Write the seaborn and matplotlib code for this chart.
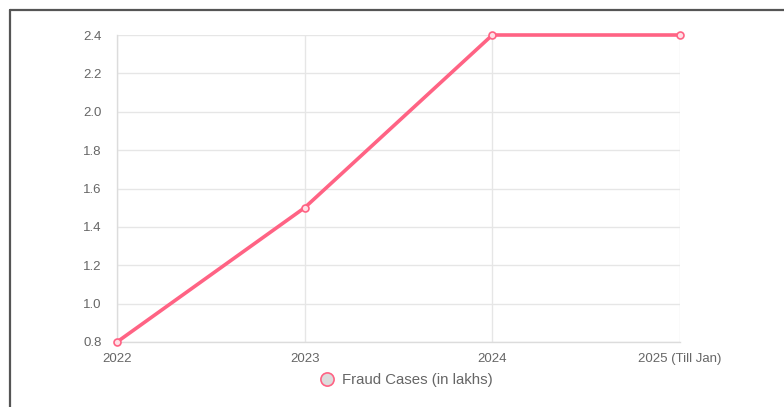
import matplotlib
matplotlib.use("Agg")
import matplotlib.pyplot as plt
from matplotlib.lines import Line2D
import seaborn as sns
import pandas as pd

years = ["2022", "2023", "2024", "2025 (Till Jan)"]
fraud_cases = [0.8, 1.5, 2.4, 2.4]
y_ticks = [0.8, 1.0, 1.2, 1.4, 1.6, 1.8, 2.0, 2.2, 2.4]
series_name = "Fraud Cases (in lakhs)"

df = pd.DataFrame({"year": years, "cases": fraud_cases})

sns.set_theme(style="white")
plt.rcParams['font.family'] = ['Liberation Sans', 'DejaVu Sans']

W, H = 784, 407
fig = plt.figure(figsize=(W / 100, H / 100), dpi=100)
ax = fig.add_axes([117 / W, 1 - 342 / H, (680 - 117) / W, (342 - 35) / H])

pink = "#ff6384"
sns.lineplot(data=df, x="year", y="cases", sort=False, ax=ax, color=pink,
             linewidth=2.6, marker="o", markersize=5,
             markerfacecolor="#ffe0e6", markeredgecolor=pink, markeredgewidth=1.2,
             clip_on=False, zorder=5)

ax.set_xlim(0, 3)
ax.set_ylim(0.8, 2.4)
ax.set_yticks(y_ticks)
ax.set_yticklabels([f"{v:.1f}" for v in y_ticks])
ax.set_xticks(range(len(years)))
ax.set_xticklabels(years)
ax.set_xlabel("")
ax.set_ylabel("")

grid_c = "#e6e6e6"
ax.grid(True, color=grid_c, linewidth=1)
for s in ["top", "right"]:
    ax.spines[s].set_visible(False)
for s in ["left", "bottom"]:
    ax.spines[s].set_color("#dcdcdc")
    ax.spines[s].set_linewidth(1)
ax.tick_params(axis="both", colors="#666666", labelsize=9.5, length=7,
               width=1, pad=4)
ax.tick_params(axis="both", color=grid_c)
ax.tick_params(axis="x", length=3, pad=5)

# legend
handle = Line2D([], [], linestyle="none", marker="o", markersize=9.5,
                markerfacecolor="#dcdcdc", markeredgecolor=pink, markeredgewidth=1.2)
fig.legend([handle], [series_name], loc="center", bbox_to_anchor=(406 / W, 1 - 380 / H),
           frameon=False, fontsize=10.8, labelcolor="#666666", handletextpad=0.5,
           handlelength=1.0)

# screenshot frame
frame_c = "#555555"
fig.add_artist(Line2D([10 / W, 1], [1 - 10 / H, 1 - 10 / H], color=frame_c, linewidth=1.6,
                      transform=fig.transFigure))
fig.add_artist(Line2D([10 / W, 10 / W], [0, 1 - 10 / H], color=frame_c, linewidth=1.6,
                      transform=fig.transFigure))

fig.savefig("out.png", dpi=100)
